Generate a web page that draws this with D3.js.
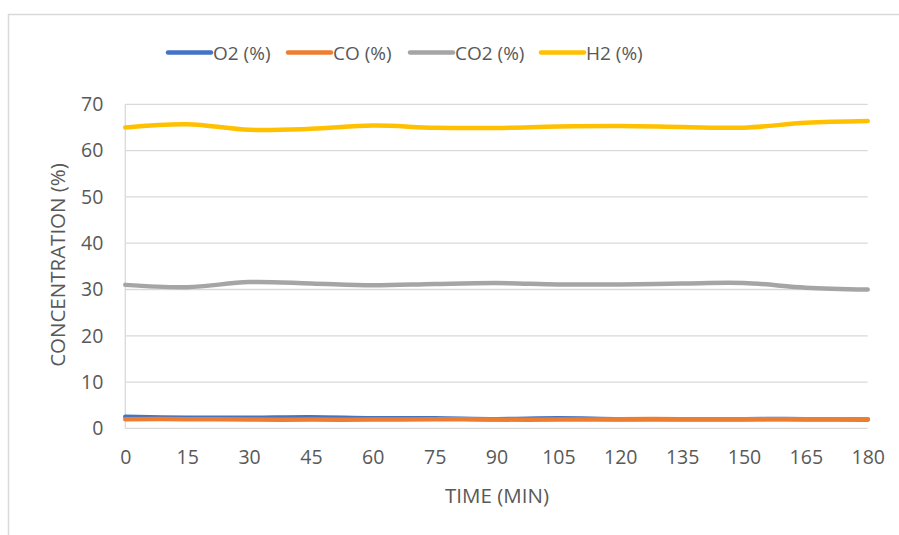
<!DOCTYPE html>
<html>
<head>
<meta charset="utf-8">
<script src="https://cdn.jsdelivr.net/npm/d3@7"></script>
<style>
  html, body { margin: 0; padding: 0; background: #fff; }
  svg { display: block; font-family: "Open Sans", "Noto Sans", sans-serif; }
</style>
</head>
<body>
<svg id="chart" width="899" height="535"></svg>
<script>
// Gas composition sampled every 15 minutes
const times = [0, 15, 30, 45, 60, 75, 90, 105, 120, 135, 150, 165, 180];
const o2  = [2.5, 2.3, 2.3, 2.4, 2.2, 2.2, 2.0, 2.2, 2.0, 2.0, 2.0, 2.0, 1.9];
const co  = [2.0, 2.0, 1.9, 1.9, 1.9, 2.0, 1.9, 1.9, 2.0, 2.0, 2.0, 2.0, 2.0];
const co2 = [31.0, 30.5, 31.6, 31.3, 30.9, 31.2, 31.4, 31.1, 31.1, 31.3, 31.4, 30.4, 30.0];
const h2  = [65.0, 65.7, 64.5, 64.7, 65.4, 64.95, 64.9, 65.2, 65.3, 65.1, 64.95, 66.0, 66.4];
const yTicks = [0, 10, 20, 30, 40, 50, 60, 70];
const seriesNames = ["O2 (%)", "CO (%)", "CO2 (%)", "H2 (%)"];
const seriesColors = ["#4472c4", "#ed7d31", "#a5a5a5", "#ffc000"];
const seriesValues = [o2, co, co2, h2];

const svg = d3.select("#chart");
const textColor = "#595959";

// outer chart frame (runs off the right and bottom edges)
svg.append("path")
  .attr("d", "M8.5,540 V14.5 H905")
  .attr("fill", "none")
  .attr("stroke", "#d9d9d9")
  .attr("stroke-width", 1.5);

const x = d3.scaleLinear().domain([0, 180]).range([125.3, 867.7]);
const y = d3.scaleLinear().domain([0, 70]).range([428.4, 104.3]);

// horizontal gridlines
svg.append("g")
  .selectAll("line")
  .data(yTicks.filter(d => d > 0))
  .join("line")
  .attr("x1", x(0)).attr("x2", x(180))
  .attr("y1", d => y(d)).attr("y2", d => y(d))
  .attr("stroke", "#d9d9d9").attr("stroke-width", 1.3);

// axis lines
svg.append("line")
  .attr("x1", x(0)).attr("x2", x(180))
  .attr("y1", y(0)).attr("y2", y(0))
  .attr("stroke", "#d9d9d9").attr("stroke-width", 1.3);
svg.append("line")
  .attr("x1", x(0)).attr("x2", x(0))
  .attr("y1", y(0)).attr("y2", y(70))
  .attr("stroke", "#d9d9d9").attr("stroke-width", 1.3);

// y axis labels
const yAxis = d3.axisLeft(y).tickValues(yTicks).tickSize(0).tickPadding(22);
const gy = svg.append("g").attr("transform", `translate(${x(0)},0)`).call(yAxis);
gy.select(".domain").remove();
gy.selectAll("text")
  .attr("fill", textColor)
  .style("font-size", "19.5px")
  .style("font-family", "Open Sans, Noto Sans, sans-serif");

// x axis labels
const xAxis = d3.axisBottom(x).tickValues(times).tickSize(0).tickPadding(22);
const gx = svg.append("g").attr("transform", `translate(0,${y(0)})`).call(xAxis);
gx.select(".domain").remove();
gx.selectAll("text")
  .attr("fill", textColor)
  .style("font-size", "19.5px")
  .style("font-family", "Open Sans, Noto Sans, sans-serif");

// axis titles
svg.append("text")
  .attr("x", 497).attr("y", 503)
  .attr("text-anchor", "middle")
  .attr("fill", textColor)
  .style("font-size", "20.5px")
  .text("TIME (MIN)");

svg.append("text")
  .attr("transform", "translate(65,265) rotate(-90)")
  .attr("text-anchor", "middle")
  .attr("fill", textColor)
  .style("font-size", "20.5px")
  .text("CONCENTRATION (%)");

// smoothed series lines
const line = d3.line()
  .x((d, i) => x(times[i]))
  .y(d => y(d))
  .curve(d3.curveCatmullRom.alpha(0.5));

svg.append("g")
  .selectAll("path")
  .data(seriesValues)
  .join("path")
  .attr("d", d => line(d))
  .attr("fill", "none")
  .attr("stroke", (d, i) => seriesColors[i])
  .attr("stroke-width", 4.5)
  .attr("stroke-linecap", "round")
  .attr("stroke-linejoin", "round");

// legend
const legendX = [168, 288, 410, 541];
const legend = svg.append("g")
  .selectAll("g")
  .data(seriesNames)
  .join("g")
  .attr("transform", (d, i) => `translate(${legendX[i]},52.5)`);
legend.append("line")
  .attr("x1", 0).attr("x2", 43)
  .attr("stroke", (d, i) => seriesColors[i])
  .attr("stroke-width", 4.5)
  .attr("stroke-linecap", "round");
legend.append("text")
  .attr("x", 45).attr("y", 7)
  .attr("fill", textColor)
  .style("font-size", "19px")
  .text(d => d);
</script>
</body>
</html>
